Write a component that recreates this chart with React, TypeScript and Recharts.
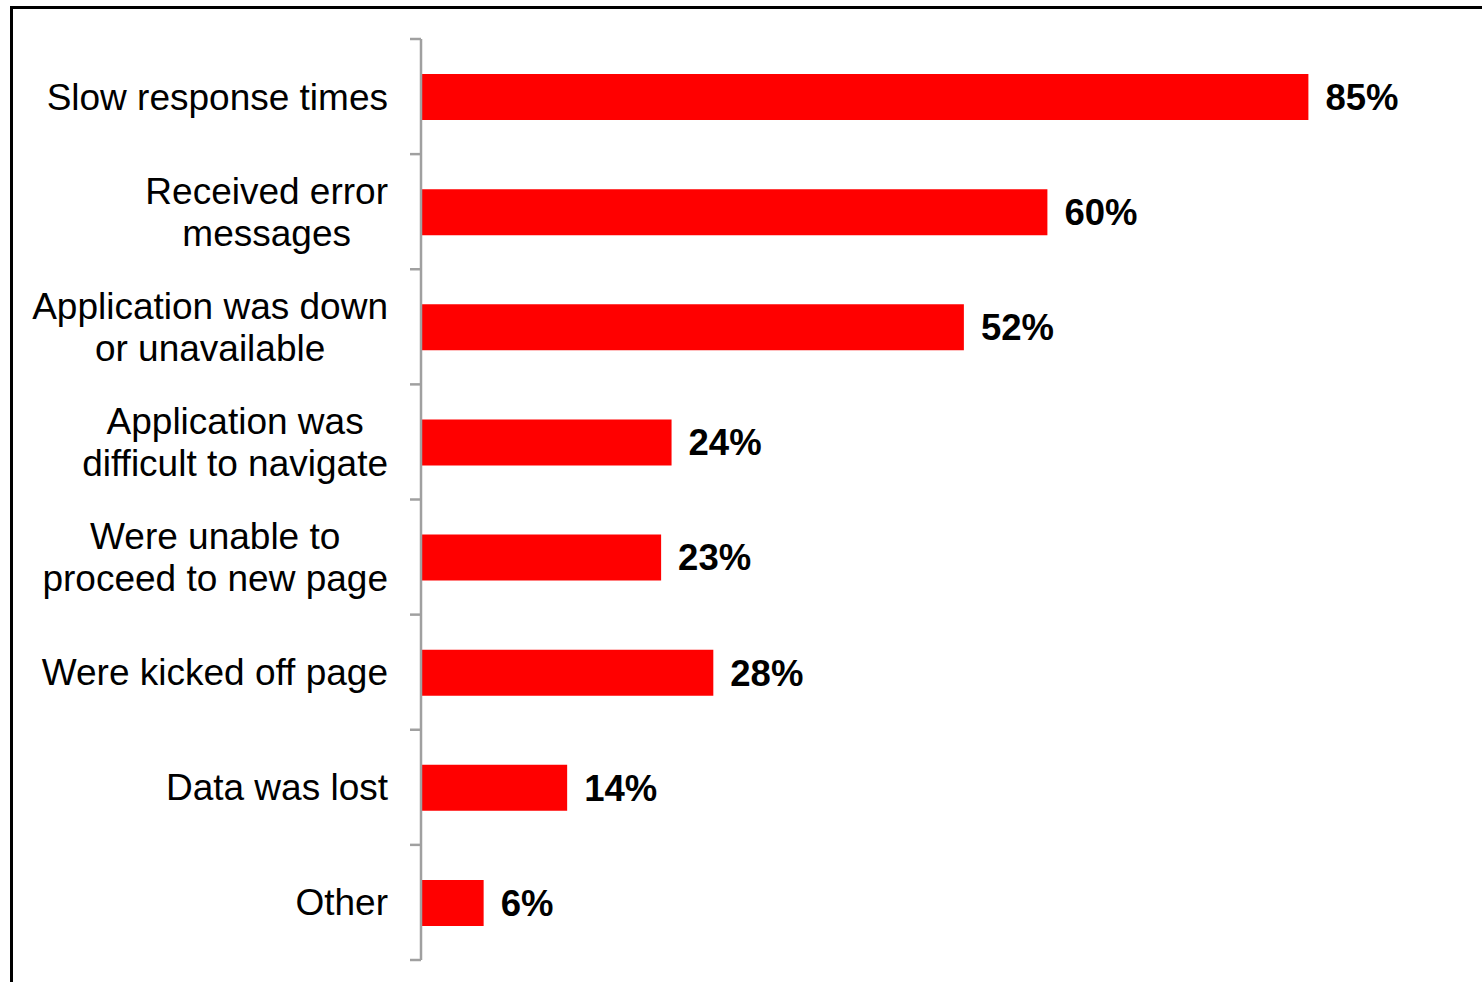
import { Bar, BarChart, LabelList, XAxis, YAxis } from 'recharts'

// Survey: problems experienced with the application
const categories = [
  'Slow response times',
  'Received error\nmessages',
  'Application was down\nor unavailable',
  'Application was\ndifficult to navigate',
  'Were unable to\nproceed to new page',
  'Were kicked off page',
  'Data was lost',
  'Other',
]
const percents = [85, 60, 52, 24, 23, 28, 14, 6]

const data = categories.map((name, i) => ({ name, value: percents[i] }))

const WIDTH = 1482
const HEIGHT = 982
const MARGIN = { top: 39, right: 17, bottom: 22, left: 0 }
const AXIS_W = 421
const BAND = (HEIGHT - MARGIN.top - MARGIN.bottom) / categories.length
const FONT = "'Liberation Sans', Arial, sans-serif"
const CAT_SIZE = 37
const LINE_GAP = 42
const TICK_LEN = 11
const LABEL_GAP = 22
const AXIS_COLOR = '#a0a0a0'

let measureCtx: CanvasRenderingContext2D | null = null
function textWidth(s: string) {
  if (!measureCtx) measureCtx = document.createElement('canvas').getContext('2d')
  if (!measureCtx) return s.length * CAT_SIZE * 0.5
  measureCtx.font = `${CAT_SIZE}px ${FONT}`
  return measureCtx.measureText(s).width
}

// right-aligned block, lines centred against each other, tick marks on band edges
function CategoryTick({ x, y, payload, index }: any) {
  const lines = String(payload.value).split('\n')
  const blockW = Math.max(...lines.map(textWidth))
  const cx = x - blockW / 2
  const axisX = x + TICK_LEN + LABEL_GAP
  const last = index === categories.length - 1
  return (
    <g>
      <line x1={axisX - TICK_LEN} x2={axisX} y1={y - BAND / 2} y2={y - BAND / 2} stroke={AXIS_COLOR} strokeWidth={2.5} />
      {last && (
        <line x1={axisX - TICK_LEN} x2={axisX} y1={y + BAND / 2} y2={y + BAND / 2} stroke={AXIS_COLOR} strokeWidth={2.5} />
      )}
      {lines.map((line, i) => (
        <text
          key={i}
          x={cx}
          y={y + 13 + (i - (lines.length - 1) / 2) * LINE_GAP}
          textAnchor="middle"
          fontSize={CAT_SIZE}
          fontFamily={FONT}
          fill="#000"
        >
          {line}
        </text>
      ))}
    </g>
  )
}

export default function App() {
  return (
    <div style={{ position: 'absolute', left: 0, top: 0, width: WIDTH, height: HEIGHT, overflow: 'hidden', background: '#fff' }}>
      <div
        style={{
          position: 'absolute',
          left: 10,
          top: 6,
          right: -10,
          bottom: -10,
          borderTop: '3px solid #000',
          borderLeft: '3px solid #000',
        }}
      />
      <div style={{ position: 'absolute', left: 0, top: 0 }}>
        <BarChart width={WIDTH} height={HEIGHT} data={data} layout="vertical" margin={MARGIN}>
          <XAxis type="number" domain={[0, 100]} hide />
          <YAxis
            type="category"
            dataKey="name"
            width={AXIS_W}
            interval={0}
            tickLine={false}
            tickSize={TICK_LEN}
            tickMargin={LABEL_GAP}
            axisLine={{ stroke: AXIS_COLOR, strokeWidth: 2.5 }}
            tick={<CategoryTick />}
          />
          <Bar dataKey="value" fill="#ff0000" barSize={46} isAnimationActive={false}>
            <LabelList
              dataKey="value"
              position="right"
              offset={17}
              formatter={(v: any) => `${v}%`}
              fill="#000"
              fontSize={36.5}
              fontWeight="bold"
              fontFamily={FONT}
            />
          </Bar>
        </BarChart>
      </div>
    </div>
  )
}
